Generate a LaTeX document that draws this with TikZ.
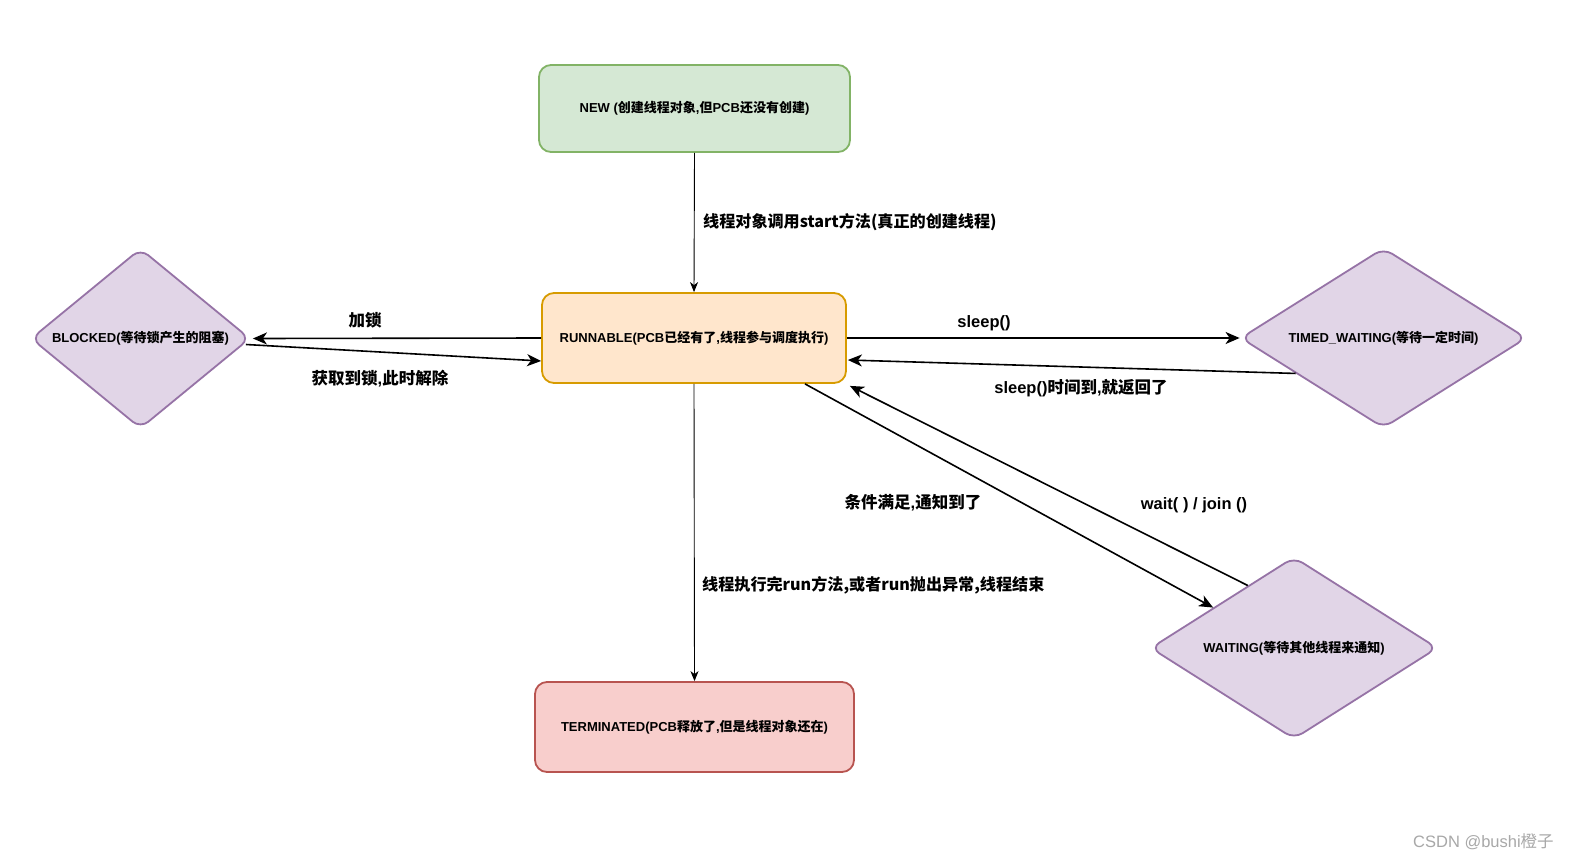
\documentclass[tikz,border=0pt]{standalone}
\usepackage{fontspec}
\setmainfont{Liberation Sans}
\newfontfamily\zhfont{Noto Sans CJK SC}
\newcommand\zh[1]{{\zhfont #1}}
\usetikzlibrary{shapes.geometric,arrows.meta,calc}
\definecolor{greenfill}{HTML}{D5E8D4}
\definecolor{greenline}{HTML}{82B366}
\definecolor{orangefill}{HTML}{FFE6CC}
\definecolor{orangeline}{HTML}{D79B00}
\definecolor{redfill}{HTML}{F8CECC}
\definecolor{redline}{HTML}{B85450}
\definecolor{purplefill}{HTML}{E1D5E7}
\definecolor{purpleline}{HTML}{9673A6}
\definecolor{wmgray}{HTML}{A8A8A8}
\begin{document}
\begin{tikzpicture}[x=1pt,y=-1pt,
  statebox/.style={draw, line width=1.8pt, rounded corners=12pt, inner sep=0pt,
    font=\fontsize{13}{15}\selectfont\bfseries},
  diam/.style={diamond, draw=purpleline, fill=purplefill, line width=1.8pt,
    rounded corners=10pt, inner sep=0pt, aspect=1.2,
    font=\fontsize{13}{15}\selectfont\bfseries},
  edge/.style={line width=1.6pt, -{Stealth[length=14pt,width=12pt,inset=4pt]}},
  thinedge/.style={line width=0.9pt, -{Stealth[length=10pt,width=8pt,inset=3pt]}},
  lbl/.style={font=\fontsize{16.5}{19}\selectfont\bfseries, inner sep=0pt},
  lbls/.style={font=\fontsize{16.1}{19}\selectfont\bfseries, inner sep=0pt}]
\useasboundingbox (0,0) rectangle (1596,860);
\fill[white] (0,0) rectangle (1596,860);

% states
\node[statebox, draw=greenline, fill=greenfill, minimum width=311pt, minimum height=87pt]
  (new) at (694.5,108.5) {NEW (\zh{创建线程对象},\zh{但}PCB\zh{还没有创建})};
\node[statebox, draw=orangeline, fill=orangefill, minimum width=304pt, minimum height=90pt]
  (runnable) at (694,338) {RUNNABLE(PCB\zh{已经有了},\zh{线程参与调度执行})};
\node[statebox, draw=redline, fill=redfill, minimum width=319pt, minimum height=90pt]
  (terminated) at (694.5,727) {TERMINATED(PCB\zh{释放了},\zh{但是线程对象还在})};
\node[diam, minimum width=219pt, minimum height=180pt]
  (blocked) at (140.5,338.5) {BLOCKED(\zh{等待锁产生的阻塞})};
\node[diam, minimum width=286pt, minimum height=180pt]
  (timed) at (1383.5,338) {TIMED\_WAITING(\zh{等待一定时间})};
\node[diam, minimum width=287pt, minimum height=182pt]
  (waiting) at (1294,648) {WAITING(\zh{等待其他线程来通知})};

% connectors
\draw[thinedge] (new.south) -- (runnable.north);
\draw[thinedge] (runnable.south) -- (terminated.north);
\draw[edge] (runnable.west) -- ($(blocked.east)+(2,0)$);
\draw[edge] ($(blocked.east)+(-5,6)$) -- ($(runnable.west)+(0,23)$);
\draw[edge] (runnable.east) -- (timed.west);
\draw[edge] ($(timed.west)!0.39!(timed.south)$) -- ($(runnable.east)+(1,22)$);
\draw[edge] ($(runnable.south)+(111,0)$) -- ($(waiting.west)!0.44!(waiting.north)$);
\draw[edge] ($(waiting.west)!0.68!(waiting.north)$) -- ($(runnable.south east)+(3,2)$);

% labels
\node[lbls, anchor=west] (l1) at (703,222) {\zh{线程对象调用start方法(真正的创建线程)}};
\node[lbl] (l2) at (365,320) {\zh{加锁}};
\node[lbl] (l3) at (380,379) {\zh{获取到锁},\zh{此时解除}};
\node[lbl] (l4) at (984,323) {sleep()};
\node[lbl] (l5) at (1081,388) {sleep()\zh{时间到},\zh{就返回了}};
\node[lbl] (l6) at (913,503) {\zh{条件满足},\zh{通知到了}};
\node[lbl] (l7) at (1194,505) {wait( ) / join ()};
\node[lbls, anchor=west] (l8) at (702,585) {\zh{线程执行完run方法,或者run抛出异常,线程结束}};

% watermark
\node[anchor=west, inner sep=0pt, text=wmgray, font=\fontsize{16.5}{19}\selectfont]
  (wm) at (1413,842) {CSDN @bushi\zh{橙子}};
\end{tikzpicture}
\end{document}
